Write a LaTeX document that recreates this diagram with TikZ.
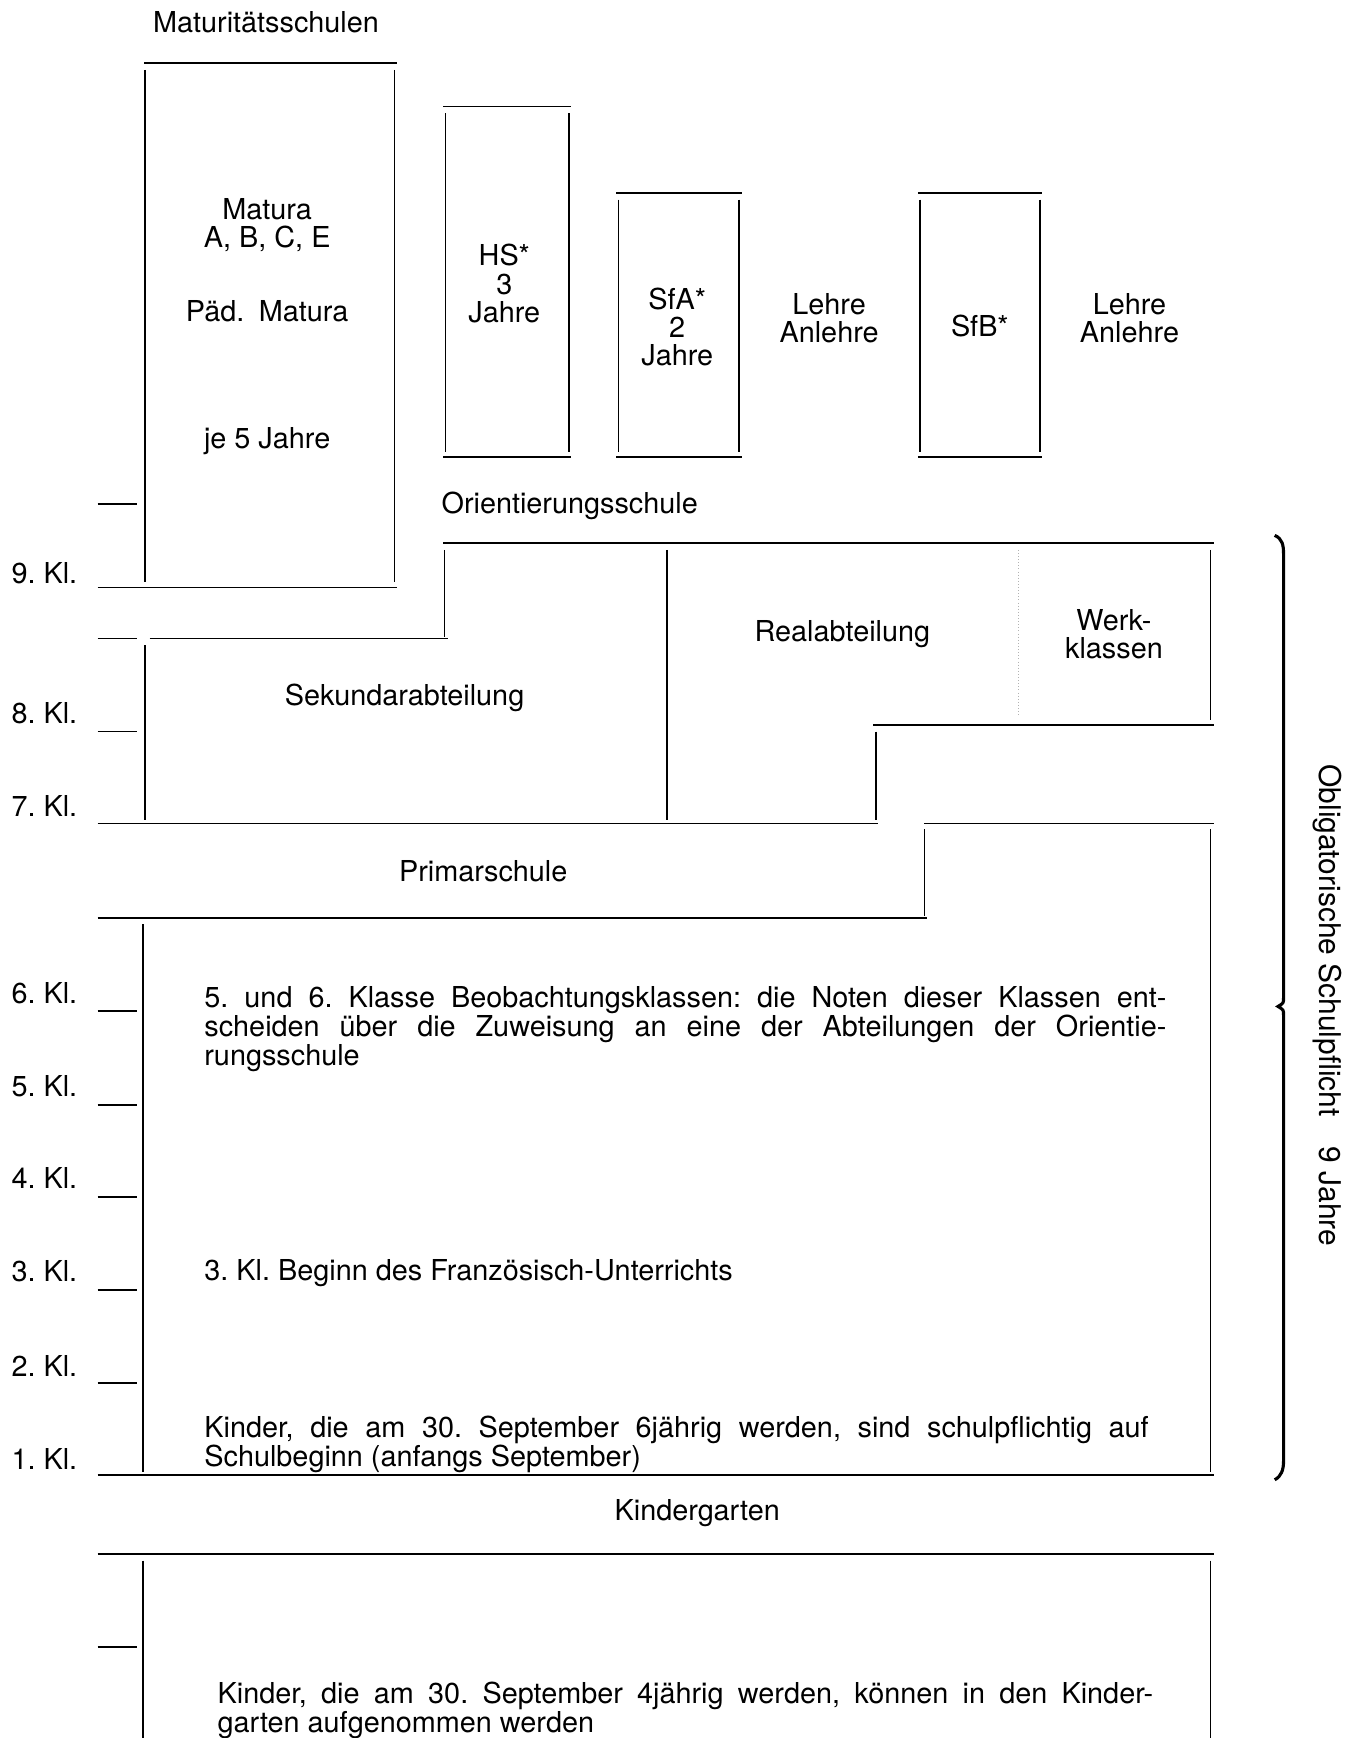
\documentclass[tikz,border=0pt]{standalone}
\usepackage{fontspec}
\setmainfont{TeX Gyre Heros}
\frenchspacing
\tikzset{
	rule/.style={line width=0.8pt},
	txt/.style={font=\fontsize{13pt}{12.8pt}\selectfont, inner sep=0pt, align=center},
	klasse/.style={font=\fontsize{13pt}{13pt}\selectfont, inner sep=0pt, anchor=west},
	para/.style={font=\fontsize{13pt}{13pt}\selectfont, inner sep=0pt, anchor=base west, align=left}
}
\newcommand{\fullline}[2]{\makebox[#1][s]{#2}}

\begin{document}
\begin{tikzpicture}[x=0.5pt,y=-0.5pt]
	\useasboundingbox (0,0) rectangle (1224,1568);
	% Maturitaetsschulen
	\node [txt] (matschule) at (240,20) {Maturitätsschulen};
	\draw [rule] (130,57) -- (358,57);
	\draw [rule] (131,63) -- (131,525);
	\draw [rule] (356,63) -- (356,525);
	\draw [rule] (88,455) -- (124,455);
	\draw [rule] (88,530) -- (358,530);
	\node [txt] (matura) at (241,203) {Matura\\A, B, C, E};
	\node [txt] (paed) at (241,281) {Päd.\enspace Matura};
	\node [txt] (jahre5) at (241,398) {je 5 Jahre};
	% HS, SfA, SfB
	\foreach \xa/\xb/\yt in {400/515/96, 556/669/174, 828/940/174} {
		\draw [rule] (\xa,\yt) -- (\xb,\yt);
		\draw [rule] (\xa+2,\yt+6) -- (\xa+2,408);
		\draw [rule] (\xb-2,\yt+6) -- (\xb-2,408);
		\draw [rule] (\xa,412) -- (\xb,412);
	}
	\node [txt] (hs) at (455,256) {HS*\\3\\Jahre};
	\node [txt] (sfa) at (611,295) {SfA*\\2\\Jahre};
	\node [txt] (lehreA) at (748,287) {Lehre\\Anlehre};
	\node [txt] (sfb) at (884,294) {SfB*};
	\node [txt] (lehreB) at (1019,287) {Lehre\\Anlehre};
	% Orientierungsschule
	\node [txt] (orient) at (514,456) {Orientierungsschule};
	\draw [rule] (400,490) -- (1095,490);
	\draw [rule] (401,496) -- (401,575);
	\draw [rule] (602,496) -- (602,740);
	\draw [rule] (1092,496) -- (1092,650);
	\draw [densely dotted, gray!60] (919,496) -- (919,645);
	\draw [rule] (788,654) -- (1095,654);
	\draw [rule] (790,660) -- (790,740);
	\draw [rule] (88,576) -- (124,576);
	\draw [rule] (135,576) -- (404,576);
	\draw [rule] (131,582) -- (131,740);
	\draw [rule] (88,660) -- (124,660);
	\node [txt] (sek) at (365,630) {Sekundarabteilung};
	\node [txt] (real) at (760,572) {Realabteilung};
	\node [txt] (werk) at (1005,572) {Werk-\\klassen};
	% Primarschule
	\draw [rule] (88,743) -- (792,743);
	\draw [rule] (834,743) -- (1095,743);
	\draw [rule] (834,748) -- (834,826);
	\draw [rule] (88,828) -- (836,828);
	\node [txt] (primar) at (436,786) {Primarschule};
	\draw [rule] (129,834) -- (129,1328);
	\draw [rule] (1092,748) -- (1092,1328);
	\draw [rule] (88,1331) -- (1095,1331);
	\foreach \y in {912,997,1080,1164,1248}
		\draw [rule] (88,\y) -- (124,\y);
	\foreach \y/\k in {517/9, 643/8, 727/7, 896/6, 980/5, 1063/4, 1147/3, 1232/2, 1316/1}
		\node [klasse] (kl\k) at (10,\y) {\k.\ Kl.};
	\node [para] (beob) at (184,961) {\fullline{434pt}{5. und 6. Klasse Beobachtungsklassen: die Noten dieser Klassen ent-}\\
		\fullline{434pt}{scheiden über die Zuweisung an eine der Abteilungen der Orientie-}\\
		rungsschule};
	\node [para] (franz) at (184,1155) {3. Kl. Beginn des Französisch-Unterrichts};
	\node [para] (kinder6) at (184,1323) {\fullline{426pt}{Kinder, die am 30. September 6jährig werden, sind schulpflichtig auf}\\
		Schulbeginn (anfangs September)};
	% Kindergarten
	\node [txt] (kiga) at (629,1365) {Kindergarten};
	\draw [rule] (88,1402) -- (1095,1402);
	\draw [rule] (129,1408) -- (129,1568);
	\draw [rule] (1092,1408) -- (1092,1568);
	\draw [rule] (88,1486) -- (124,1486);
	\node [para] (kinder4) at (196,1563) {\fullline{422pt}{Kinder, die am 30. September 4jährig werden, können in den Kinder-}\\
		garten aufgenommen werden};
	% Schulpflicht
	\draw [line width=1.4pt] (1150,483) .. controls (1157,486) and (1158,492) .. (1158,500) -- (1158,900)
		.. controls (1158,905) .. (1153,908) .. controls (1158,911) .. (1158,916) -- (1158,1318)
		.. controls (1158,1326) and (1156,1332) .. (1150,1335);
	\node [txt, font=\fontsize{13.5pt}{13.5pt}\selectfont, rotate=-90] (pflicht) at (1198,907) {Obligatorische Schulpflicht\quad 9 Jahre};
\end{tikzpicture}
\end{document}
